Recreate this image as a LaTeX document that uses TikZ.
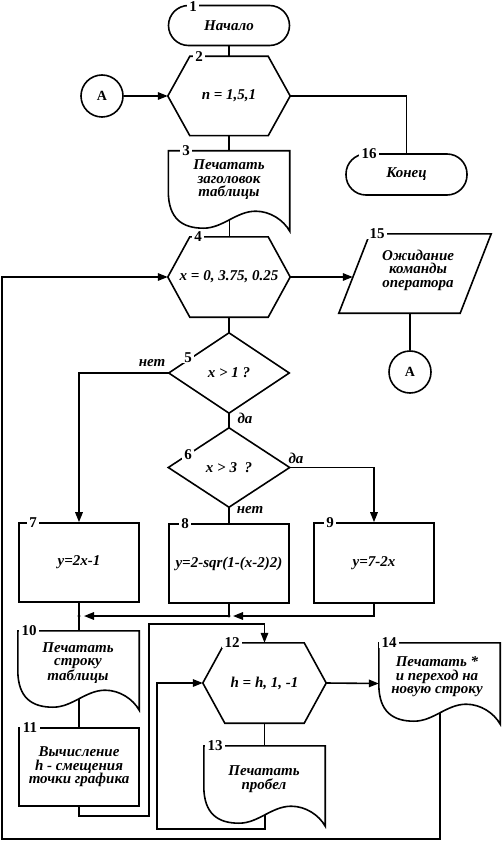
\documentclass[tikz,border=0pt]{standalone}
\usepackage{fontspec}
\setmainfont{Liberation Serif}
\usetikzlibrary{arrows.meta,calc}
\tikzset{
  outl/.style={line width=1.6pt, line join=miter},
  conn/.style={line width=1.6pt},
  arr/.style={conn, -{Triangle[length=10pt,width=7.5pt]}},
  txt/.style={font=\fontsize{15}{13.5}\selectfont\bfseries\itshape, align=center, inner sep=0pt},
  holder/.style={txt, draw=none},
  term/.style={txt, draw, line width=1.6pt, rounded corners=20pt, minimum width=121pt, minimum height=40pt},
  procbox/.style={txt, draw, line width=1.6pt, minimum width=120pt, minimum height=79pt},
  lab/.style={font=\fontsize{15}{15}\selectfont\bfseries, fill=white, inner xsep=2.5pt, inner ysep=0pt},
  conncirc/.style={draw, circle, line width=1.6pt, minimum size=42pt, inner sep=0pt, font=\fontsize{14}{14}\selectfont\bfseries},
  note/.style={font=\fontsize{15}{15}\selectfont\bfseries\itshape, inner sep=0pt},
}
\newcommand\hexshape[2]{\draw[outl] (#1.west) -- ([xshift=#2]#1.north west) -- ([xshift=-#2]#1.north east) -- (#1.east) -- ([xshift=-#2]#1.south east) -- ([xshift=#2]#1.south west) -- cycle;}
\newcommand\diashape[1]{\draw[outl] (#1.north) -- (#1.east) -- (#1.south) -- (#1.west) -- cycle;}
\newcommand\parashape[2]{\draw[outl] (#1.south west) -- ([xshift=#2]#1.north west) -- (#1.north east) -- ([xshift=-#2]#1.south east) -- cycle;}
\newcommand\docshape[1]{%
  \draw[outl] ($(#1.south west)+(0,-40)$) |- (#1.north east) -- (#1.south east)
   .. controls ($(#1.south west)!0.95!(#1.south east)+(0,-11)$) and ($(#1.south west)!0.84!(#1.south east)+(0,-20)$)
   .. ($(#1.south west)!0.72!(#1.south east)+(0,-20)$)
   .. controls ($(#1.south west)!0.56!(#1.south east)+(0,-20)$) and ($(#1.south west)!0.45!(#1.south east)+(0,-3)$)
   .. ($(#1.south west)!0.29!(#1.south east)+(0,-3)$) coordinate[pos=0.5] (#1-out)
   .. controls ($(#1.south west)!0.12!(#1.south east)+(0,-3)$) and ($(#1.south west)+(0,-12)$)
   .. ($(#1.south west)+(0,-40)$) -- cycle;}
\begin{document}
\begin{tikzpicture}[x=1pt,y=-1pt]
\path[use as bounding box] (0,0) rectangle (502,842);

% nodes
\node[term] (n1) at (229,25.5) {Начало};
\node[holder, minimum width=122pt, minimum height=79pt] (n2) at (229,96) {n = 1,5,1};
\node[conncirc] (a1) at (102,96) {A};
\node[term, minimum height=41pt] (n16) at (406.5,174.5) {Конец};
\node[holder, minimum width=121pt, minimum height=80pt] (n3) at (229,191) {};
\node[txt] (t3) at (229,180) {Печатать\\заголовок\\таблицы};
\node[holder, minimum width=122pt, minimum height=80pt] (n4) at (229,277) {x = 0, 3.75, 0.25};
\node[holder, minimum width=152pt, minimum height=79pt] (n15) at (415,273.5) {};
\node[txt] (t15) at (418,270) {Ожидание\\команды\\оператора};
\node[conncirc] (a2) at (410,372) {A};
\node[holder, minimum width=120pt, minimum height=80pt] (n5) at (229,373) {x > 1 ?};
\node[holder, minimum width=121pt, minimum height=79pt] (n6) at (229,467.5) {x > 3 \ ?};
\node[procbox] (n7) at (79,562.5) {y=2x-1};
\node[procbox] (n8) at (229,563.5) {y=2-sqr(1-(x-2)2)};
\node[procbox, minimum height=80pt] (n9) at (374,563) {y=7-2x};
\coordinate (j7) at (79,616);
\coordinate (j8) at (229,616);
\node[holder, minimum width=121pt, minimum height=79pt] (n10) at (78.5,670.5) {};
\node[txt] (t10) at (78,663) {Печатать\\строку\\таблицы};
\node[procbox, minimum height=78pt] (n11) at (79,767) {Вычисление\\h - смещения\\точки графика};
\node[holder, minimum width=123pt, minimum height=80pt] (n12) at (264.5,683) {h = h, 1, -1};
\node[holder, minimum width=121pt, minimum height=80pt] (n13) at (264.5,786) {};
\node[txt] (t13) at (264,779) {Печатать\\пробел};
\node[holder, minimum width=121pt, minimum height=81pt] (n14) at (439.5,683.5) {};
\node[txt] (t14) at (437,677) {Печатать *\\и переход на\\новую строку};
\coordinate (r1) at (149,816);
\coordinate (r2) at (149,624);
\coordinate (r3) at (157,829);
\coordinate (r4) at (2,839);

% outlines
\hexshape{n2}{22}
\hexshape{n4}{22}
\hexshape{n12}{22}
\diashape{n5}
\diashape{n6}
\parashape{n15}{31}
\docshape{n3}
\docshape{n10}
\docshape{n13}
\docshape{n14}

% connectors
\draw[conn] (n1.south) -- (n2.north);
\draw[arr] (a1.east) -- (n2.west);
\draw[conn] (n2.east) -| (n16.north);
\draw[conn] (n2.south) -- (n3.north);
\draw[conn] (n3-out) -- (n3-out |- n4.north);
\draw[conn] (n4.south) -- (n5.north);
\draw[arr] (n4.east) -- ($(n4.east -| n15.west)+(14,0)$);
\draw[conn] (a2.north) -- (a2.north |- n15.south);
\draw[conn] (n5.south) -- (n6.north);
\draw[arr] (n5.west) -| (n7.north);
\draw[arr] (n6.east) -| (n9.north);
\draw[conn] (n6.south) -- (n8.north);
\draw[conn] (n7.south) -- (j7);
\draw[conn] (n8.south) -- (j8);
\draw[arr] (n9.south) |- ($(j8)+(4,0)$);
\draw[arr] (j8) -- ($(j7)+(5,0)$);
\fill (j7) circle (1.7pt);
\fill (j8) circle (1.7pt);
\draw[conn] (j7) -- (j7 |- n10.north);
\draw[conn] (n10-out) -- (n10-out |- n11.north);
\draw[arr] (n11.south) |- (r1) -- (r2) -| (n12.north);
\draw[arr] (n12.east) -- (n14.west);
\draw[conn] (n12.south) -- (n13.north);
\draw[arr] (n13-out) |- (r3) |- (n12.west);
\draw[arr] (n14-out) |- (r4) |- (n4.west);

% branch notes
\node[note] (no1) at (152,363) {нет};
\node[note] (yes1) at (245,418) {да};
\node[note] (yes2) at (296,458) {да};
\node[note] (no2) at (250,510) {нет};

% number labels
\node[lab] (l1) at (193,6.5) {1};
\node[lab] (l2) at (199,56.5) {2};
\node[lab] (l3) at (186,151) {3};
\node[lab] (l4) at (198,237) {4};
\node[lab] (l5) at (188,358) {5};
\node[lab] (l6) at (188,455) {6};
\node[lab] (l7) at (33,523) {7};
\node[lab] (l8) at (185,524) {8};
\node[lab] (l9) at (330,523) {9};
\node[lab] (l10) at (29,631) {10};
\node[lab] (l11) at (30,728) {11};
\node[lab] (l12) at (232,643) {12};
\node[lab] (l13) at (215,746) {13};
\node[lab] (l14) at (389,643) {14};
\node[lab] (l15) at (377,234) {15};
\node[lab] (l16) at (369,154) {16};
\end{tikzpicture}
\end{document}
